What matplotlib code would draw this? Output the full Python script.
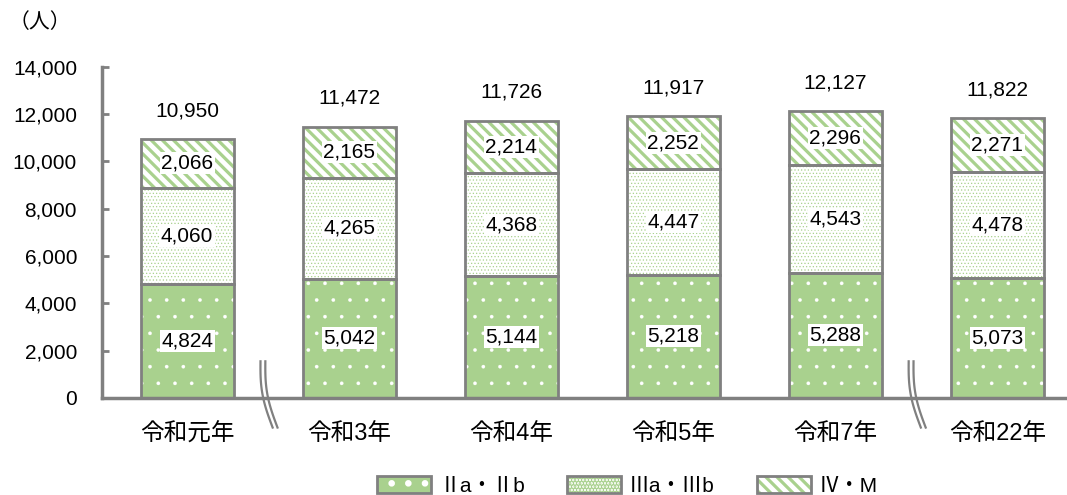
import numpy as np
import matplotlib
matplotlib.use("Agg")
import matplotlib.pyplot as plt
from matplotlib.patches import Patch
from matplotlib.legend_handler import HandlerTuple

plt.rcParams['font.family'] = ['Liberation Sans', 'Noto Sans CJK JP', 'DejaVu Sans']

categories = ['令和元年', '令和3年', '令和4年', '令和5年', '令和7年', '令和22年']
s_II = [4824, 5042, 5144, 5218, 5288, 5073]
s_III = [4060, 4265, 4368, 4447, 4543, 4478]
s_IV = [2066, 2165, 2214, 2252, 2296, 2271]
totals = [10950, 11472, 11726, 11917, 12127, 11822]
series_names = ['Ⅱa・Ⅱb', 'Ⅲa・Ⅲb', 'Ⅳ・M']
yticks = [0, 2000, 4000, 6000, 8000, 10000, 12000, 14000]

green = '#a9d18e'
gray = '#808080'

styles = [dict(facecolor=green, hatchcolor='white', hatch='.', hlw=0.2),
          dict(facecolor='white', hatchcolor=green, hatch='.....', hlw=0.5),
          dict(facecolor='white', hatchcolor=green, hatch='\\\\\\', hlw=2.3)]


def hatched_patch_kwargs(st):
    plt.rcParams['hatch.linewidth'] = st['hlw']
    return dict(facecolor=st['facecolor'], edgecolor=st['hatchcolor'], hatch=st['hatch'], linewidth=0)


fig = plt.figure(figsize=(10.67, 4.95), dpi=100)
ax = fig.add_axes([0.0956, 0.196, 0.9044, 0.669])

x = np.arange(len(categories))
w = 0.574

bottoms = [np.zeros(len(x)), np.array(s_II, float), np.array(s_II, float) + np.array(s_III)]
values = [s_II, s_III, s_IV]
for vals, bot, st in zip(values, bottoms, styles):
    bars = ax.bar(x, vals, w, bottom=bot, zorder=2, **hatched_patch_kwargs(st))
    for b in bars:
        if hasattr(b, 'set_hatch_linewidth'):
            b.set_hatch_linewidth(st['hlw'])
    ax.bar(x, vals, w, bottom=bot, fill=False, edgecolor=gray, linewidth=2, zorder=3)

ax.set_xlim(-0.525, 5.43)
ax.set_ylim(0, 14000)

box = dict(facecolor='white', edgecolor='none', pad=1.0)
for i in range(len(categories)):
    for vals, bot in zip(values, bottoms):
        ax.text(x[i], bot[i] + vals[i] / 2, f'{vals[i]:,}', ha='center', va='center',
                fontsize=15, bbox=box, zorder=5)
    ax.text(x[i], totals[i] + 800, f'{totals[i]:,}', ha='center', va='bottom', fontsize=15, zorder=5)

ax.set_yticks(yticks)
ax.set_yticklabels([f'{v:,}' for v in yticks], fontsize=15)
ax.set_xticks(x)
ax.set_xticklabels(categories, fontsize=17)
ax.tick_params(axis='y', direction='in', length=5, width=2, color=gray, pad=18)
ax.tick_params(axis='x', length=0, pad=18)
for s in ['top', 'right']:
    ax.spines[s].set_visible(False)
for s in ['left', 'bottom']:
    ax.spines[s].set_color(gray)
    ax.spines[s].set_linewidth(2.5)

# axis break marks
t = np.linspace(0, 1, 50)
yy = 1550 - t * 2800
for xc in [0.5, 4.5]:
    for off in [-0.012, 0.018]:
        xx = xc + off - 0.035 + 0.075 * t - 0.025 * np.sin(np.pi * t)
        ax.plot(xx, yy, color=gray, lw=1.6, clip_on=False, zorder=6)

fig.text(0.008, 0.955, '（人）', fontsize=15, ha='left', va='center')

handles = []
for st in styles:
    h = Patch(**hatched_patch_kwargs(st))
    if hasattr(h, 'set_hatch_linewidth'):
        h.set_hatch_linewidth(st['hlw'])
    o = Patch(fill=False, edgecolor=gray, linewidth=2)
    handles.append((h, o))

leg = fig.legend(handles, series_names, loc='center', bbox_to_anchor=(0.588, 0.018),
                 ncol=3, frameon=False, fontsize=15, handlelength=2.6, handleheight=0.9,
                 columnspacing=2.0, handletextpad=0.4,
                 handler_map={tuple: HandlerTuple(ndivide=1, pad=0)})

fig.savefig('out.png', dpi=100)
